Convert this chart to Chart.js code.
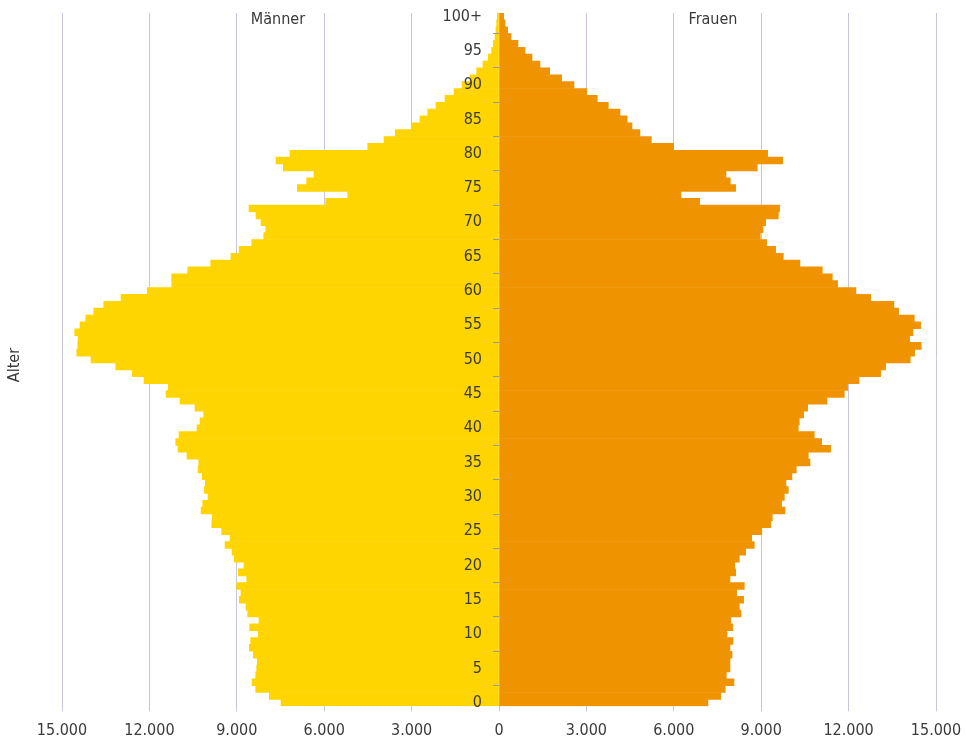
<!DOCTYPE html>
<html lang="de">
<head>
<meta charset="utf-8">
<title>Bevölkerungspyramide</title>
<script src="https://cdn.jsdelivr.net/npm/chart.js@4/dist/chart.umd.min.js"></script>
<style>
  html, body { margin: 0; padding: 0; background: #fff; }
  #wrap { width: 966px; height: 742px; }
</style>
</head>
<body>
<div id="wrap"><canvas id="pyramid" width="966" height="742"></canvas></div>
<script>
// --- DATA ---
// ages 0 .. 99, then "100+"
const ages = [];
for (let a = 0; a < 100; a++) ages.push(String(a));
ages.push('100+');

const maenner = [
  7482, 7883, 8351, 8477, 8351, 8317, 8295, 8432, 8569, 8523,
  8260, 8557, 8237, 8626, 8683, 8913, 8855, 9003, 8660, 8947,
  8752, 9084, 9164, 9404, 9232, 9520, 9860, 9840, 10227, 10169,
  9987, 10114, 10080, 10183, 10330, 10306, 10708, 11017, 11096, 10982,
  10365, 10262, 10135, 10433, 10948, 11429, 11350, 12184, 12585, 13155,
  14003, 14493, 14459, 14449, 14563, 14380, 14184, 13910, 13567, 12973,
  12070, 11233, 11233, 10684, 9895, 9200, 8923, 8488, 8076, 8007,
  8168, 8340, 8580, 5948, 5193, 6922, 6600, 6349, 7403, 7653,
  7173, 4506, 3947, 3559, 3010, 2711, 2448, 2162, 1853, 1544,
  1270, 995, 766, 549, 366, 252, 195, 137, 103, 80,
  57
];

const frauen = [
  7173, 7608, 7767, 8065, 7801, 7928, 7928, 7997, 7928, 8031,
  7825, 8020, 7951, 8305, 8248, 8397, 8157, 8420, 7928, 8123,
  8089, 8248, 8466, 8763, 8672, 9020, 9324, 9381, 9816, 9701,
  9793, 9930, 9850, 10056, 10204, 10674, 10616, 11383, 11074, 10822,
  10273, 10307, 10456, 10594, 11257, 11852, 11966, 12355, 13099, 13270,
  14117, 14266, 14494, 14094, 14209, 14472, 14254, 13717, 13556, 12756,
  12252, 11623, 11440, 11097, 10330, 9758, 9495, 9186, 8969, 9060,
  9152, 9587, 9632, 6887, 6246, 8122, 7939, 7791, 8866, 9735,
  9221, 5995, 5228, 4839, 4565, 4400, 4153, 3752, 3375, 3008,
  2574, 2150, 1739, 1407, 1133, 892, 652, 412, 297, 206,
  160
];

const xMin = -15000;
const xMax = 15000;
const xStep = 3000;

// --- HELPERS ---

function fmtDe(v) {
  const s = String(Math.abs(Math.round(v)));
  return s.length > 3 ? s.slice(0, -3) + '.' + s.slice(-3) : s;
}

// only every 5th age gets a label (and a tick mark)
const everyFifth = (v, i) => (i % 5 === 0 ? ages[i] : null);

const TEXT = '#3a3a3a';
const FONT = "'Liberation Sans Narrow', 'DejaVu Sans Condensed', 'Roboto Condensed', Roboto, sans-serif";

// labels "Männer", "Frauen" and the axis title "Alter"
const extraLabels = {
  id: 'extraLabels',
  afterDraw(chart) {
    const ctx = chart.ctx;
    ctx.save();
    ctx.fillStyle = TEXT;
    ctx.font = '16px ' + FONT;
    ctx.textAlign = 'center';
    ctx.textBaseline = 'middle';
    ctx.fillText('Männer', 278, 20);
    ctx.fillText('Frauen', 713, 20);
    ctx.translate(15, 365);
    ctx.rotate(-Math.PI / 2);
    ctx.fillText('Alter', 0, 0);
    ctx.restore();
  }
};

Chart.defaults.font.family = FONT;
Chart.defaults.color = TEXT;

new Chart(document.getElementById('pyramid'), {
  type: 'bar',
  data: {
    labels: ages,
    datasets: [
      {
        label: 'Männer',
        data: maenner.map(v => -v),
        xAxisID: 'x',
        yAxisID: 'y',
        backgroundColor: '#FED500',
        borderWidth: 0,
        barPercentage: 1,
        categoryPercentage: 1
      },
      {
        label: 'Frauen',
        data: frauen,
        xAxisID: 'x',
        yAxisID: 'y',
        backgroundColor: '#F09300',
        borderWidth: 0,
        barPercentage: 1,
        categoryPercentage: 1
      }
    ]
  },
  options: {
    indexAxis: 'y',
    responsive: false,
    animation: false,
    devicePixelRatio: 1,
    layout: { padding: { left: 62, right: 30, top: 13, bottom: -8 } },
    plugins: {
      legend: { display: false },
      tooltip: { enabled: false }
    },
    scales: {
      x: {
        type: 'linear',
        min: xMin,
        max: xMax,
        stacked: true,
        position: 'bottom',
        grid: { color: '#C4C7DC', lineWidth: 1, tickLength: 5, drawTicks: true },
        border: { display: false },
        ticks: {
          stepSize: xStep,
          padding: 15,
          color: TEXT,
          font: { size: 16, lineHeight: 0.55 },
          callback: v => fmtDe(v)
        },
        afterFit: s => { s.paddingLeft = 0; s.paddingRight = 0; }
      },
      // age axis at x = 0: border line and the short tick marks
      y: {
        type: 'category',
        reverse: true,
        stacked: true,
        offset: true,
        position: { x: 0 },
        grid: { drawOnChartArea: false, drawTicks: true, tickLength: 6, color: '#999999', offset: true, z: 1 },
        border: { display: true, color: '#B0B0B0', width: 1, z: 1 },
        ticks: { autoSkip: false, display: false, callback: everyFifth },
        afterFit: s => { s.paddingTop = 0; s.paddingBottom = 0; }
      },
      // age labels, set a little left of the centre line
      yLabels: {
        axis: 'y',
        type: 'category',
        reverse: true,
        offset: true,
        position: { x: -583 },
        grid: { display: false },
        border: { display: false },
        ticks: {
          autoSkip: false,
          padding: 0,
          z: 1,
          color: TEXT,
          font: { size: 16 },
          callback: everyFifth
        },
        afterFit: s => { s.paddingTop = 0; s.paddingBottom = 0; }
      }
    }
  },
  plugins: [extraLabels]
});
</script>
</body>
</html>
